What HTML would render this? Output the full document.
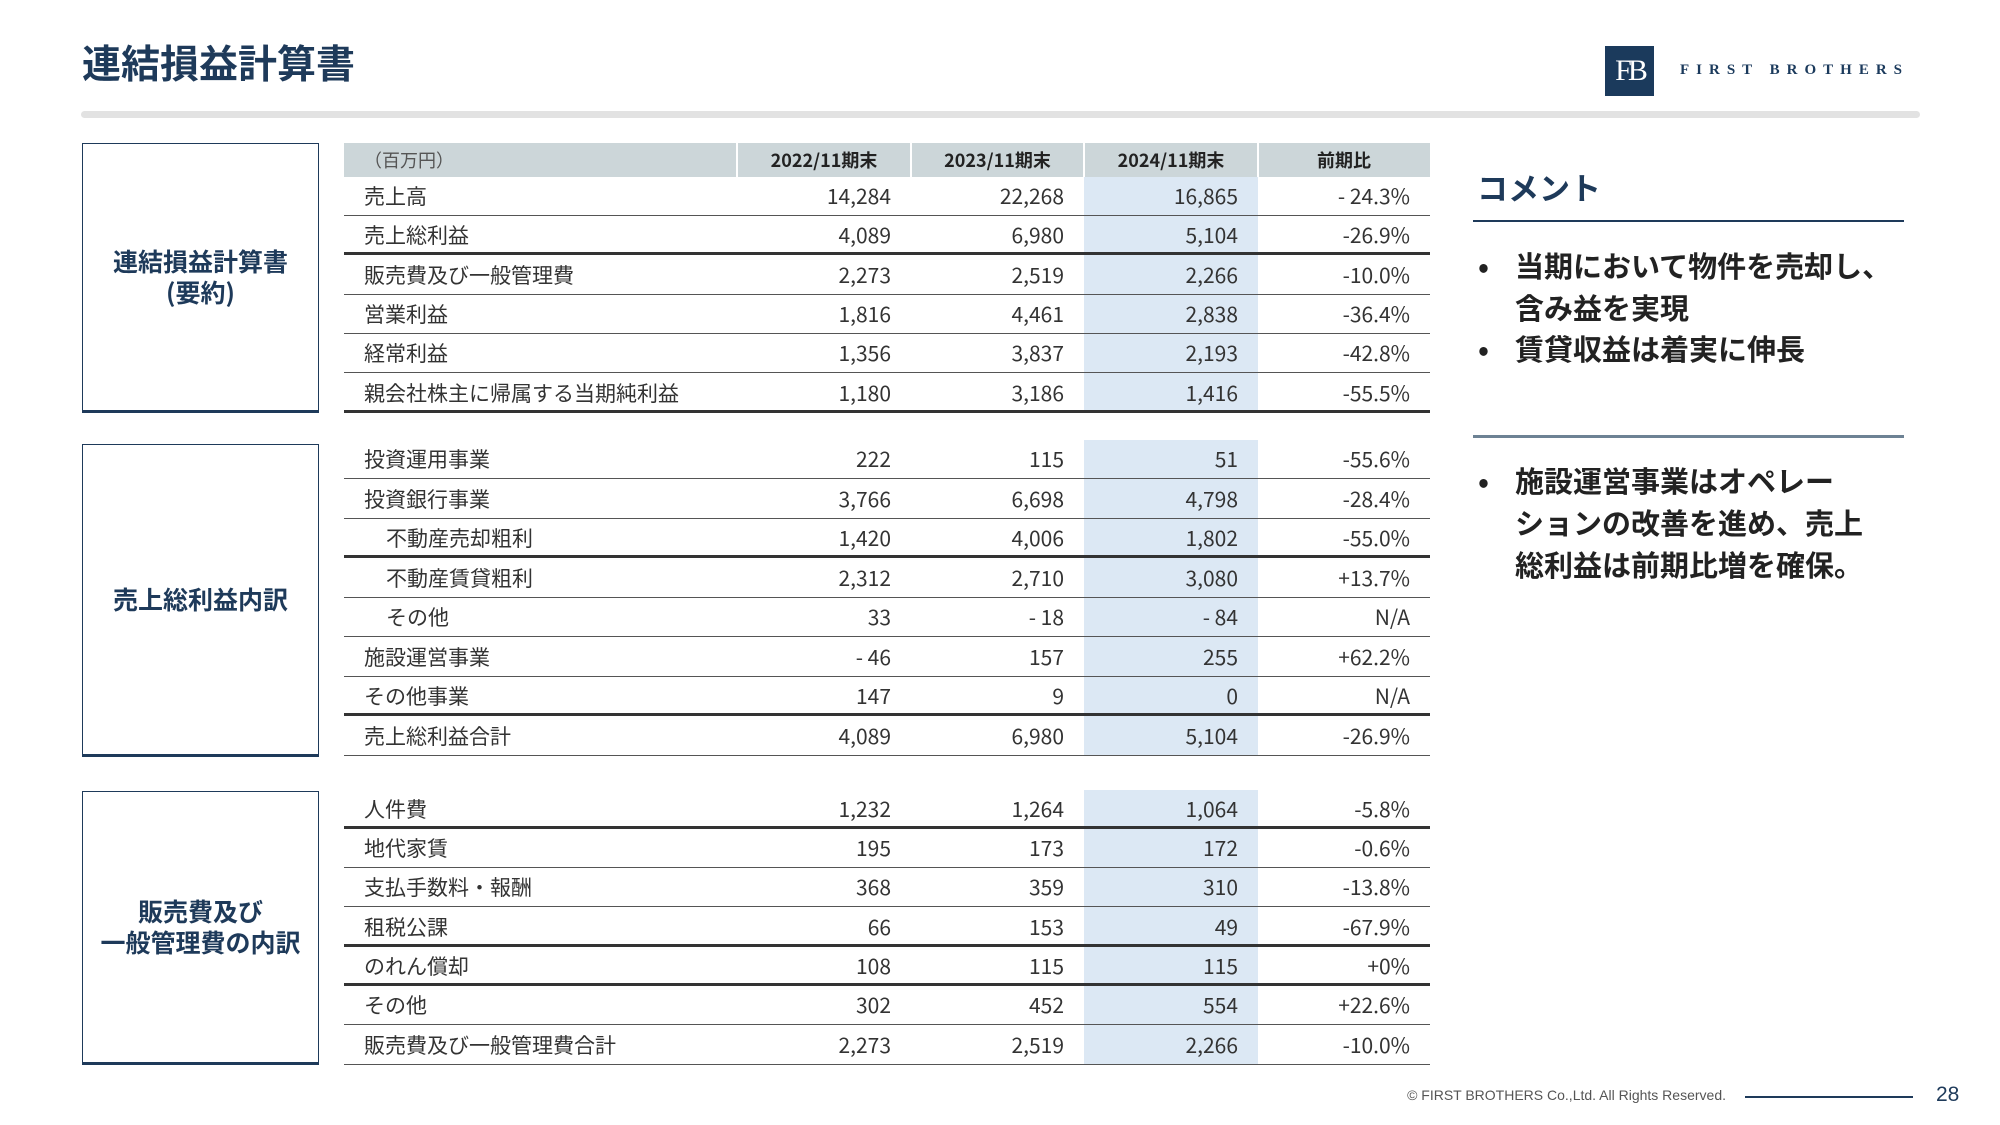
<!DOCTYPE html>
<html><head><meta charset="utf-8"><style>
*{margin:0;padding:0;box-sizing:border-box}
body{width:2000px;height:1125px;background:#fff;position:relative;overflow:hidden;font-family:"Liberation Sans","Noto Sans CJK JP",sans-serif;color:#333}
.a{position:absolute}
.title{left:82px;top:34px;font-size:39px;font-weight:bold;color:#1e3a5a;font-family:"Noto Sans CJK JP",sans-serif;line-height:56px}
.bar{left:81px;top:111px;width:1839px;height:7px;background:#e2e2e2;border-radius:4px}
.box{position:absolute;left:82px;width:237px;border:1.5px solid #1e3a5a;border-bottom:3px solid #1e3a5a;display:flex;align-items:center;justify-content:center;text-align:center;font-size:25px;font-weight:bold;color:#1e3a5a;line-height:31px;font-family:"Noto Sans CJK JP",sans-serif}
.hl{position:absolute;left:1084px;width:174px;background:#dce8f4}
.row{position:absolute;left:344px;width:1086px;height:39.3px;border-bottom:1.5px solid #555;font-size:21px;color:#333;font-family:"Noto Sans CJK JP",sans-serif}
.row.t{border-bottom:3px solid #333}
.row span{position:absolute;top:0;line-height:38px}
.l{left:20px}.i{left:42px}
.c1{right:539px}.c2{right:366px}.c3{right:192px}.c4{right:20px}
.hdr{position:absolute;left:344px;top:143px;width:1086px;height:34px;background:#ccd6d9;font-size:18px;font-weight:bold;color:#222;font-family:"Noto Sans CJK JP",sans-serif}
.hdr div{position:absolute;top:0;height:34px;line-height:34px;text-align:center}
.hdr .sep{width:2px;background:#fff;top:0}
.cm{color:#222;font-size:29px;font-weight:bold;line-height:42px;font-family:"Noto Sans CJK JP",sans-serif}
</style></head><body>
<div class="a title">連結損益計算書</div>
<div class="a" style="left:1605px;top:46px;width:49px;height:50px;background:#1b3a5c;color:#fff;font-family:'Liberation Serif',serif;font-size:30px;line-height:50px;text-align:center;letter-spacing:-4px">FB</div>
<div class="a" style="left:1680px;top:62px;font-family:'Liberation Serif',serif;font-size:15px;font-weight:bold;letter-spacing:7px;color:#1b3a5c">FIRST BROTHERS</div>
<div class="a bar"></div>

<div class="box" style="top:143px;height:270px">連結損益計算書<br>(要約)</div>
<div class="box" style="top:444px;height:313px">売上総利益内訳</div>
<div class="box" style="top:791px;height:274px">販売費及び<br>一般管理費の内訳</div>

<div class="hdr">
<div style="left:20px;font-weight:normal;color:#555">（百万円）</div>
<div style="left:393px;width:174px">2022/11期末</div>
<div style="left:567px;width:173px">2023/11期末</div>
<div style="left:740px;width:174px">2024/11期末</div>
<div style="left:914px;width:172px">前期比</div>
<div class="sep" style="left:392px"></div><div class="sep" style="left:566px"></div><div class="sep" style="left:739px"></div><div class="sep" style="left:913px"></div>
</div>

<div class="hl" style="top:177px;height:236px"></div>
<div class="hl" style="top:440px;height:316px"></div>
<div class="hl" style="top:790px;height:275px"></div>

<div class="row" style="top:177px"><span class="l">売上高</span><span class="c1">14,284</span><span class="c2">22,268</span><span class="c3">16,865</span><span class="c4">- 24.3%</span></div>
<div class="row t" style="top:216px"><span class="l">売上総利益</span><span class="c1">4,089</span><span class="c2">6,980</span><span class="c3">5,104</span><span class="c4">-26.9%</span></div>
<div class="row" style="top:256px"><span class="l">販売費及び一般管理費</span><span class="c1">2,273</span><span class="c2">2,519</span><span class="c3">2,266</span><span class="c4">-10.0%</span></div>
<div class="row" style="top:295px"><span class="l">営業利益</span><span class="c1">1,816</span><span class="c2">4,461</span><span class="c3">2,838</span><span class="c4">-36.4%</span></div>
<div class="row" style="top:334px"><span class="l">経常利益</span><span class="c1">1,356</span><span class="c2">3,837</span><span class="c3">2,193</span><span class="c4">-42.8%</span></div>
<div class="row t" style="top:374px"><span class="l">親会社株主に帰属する当期純利益</span><span class="c1">1,180</span><span class="c2">3,186</span><span class="c3">1,416</span><span class="c4">-55.5%</span></div>

<div class="row" style="top:440px"><span class="l">投資運用事業</span><span class="c1">222</span><span class="c2">115</span><span class="c3">51</span><span class="c4">-55.6%</span></div>
<div class="row" style="top:480px"><span class="l">投資銀行事業</span><span class="c1">3,766</span><span class="c2">6,698</span><span class="c3">4,798</span><span class="c4">-28.4%</span></div>
<div class="row t" style="top:519px"><span class="i">不動産売却粗利</span><span class="c1">1,420</span><span class="c2">4,006</span><span class="c3">1,802</span><span class="c4">-55.0%</span></div>
<div class="row" style="top:559px"><span class="i">不動産賃貸粗利</span><span class="c1">2,312</span><span class="c2">2,710</span><span class="c3">3,080</span><span class="c4">+13.7%</span></div>
<div class="row" style="top:598px"><span class="i">その他</span><span class="c1">33</span><span class="c2">- 18</span><span class="c3">- 84</span><span class="c4">N/A</span></div>
<div class="row" style="top:638px"><span class="l">施設運営事業</span><span class="c1">- 46</span><span class="c2">157</span><span class="c3">255</span><span class="c4">+62.2%</span></div>
<div class="row t" style="top:677px"><span class="l">その他事業</span><span class="c1">147</span><span class="c2">9</span><span class="c3">0</span><span class="c4">N/A</span></div>
<div class="row" style="top:717px"><span class="l">売上総利益合計</span><span class="c1">4,089</span><span class="c2">6,980</span><span class="c3">5,104</span><span class="c4">-26.9%</span></div>

<div class="row t" style="top:790px"><span class="l">人件費</span><span class="c1">1,232</span><span class="c2">1,264</span><span class="c3">1,064</span><span class="c4">-5.8%</span></div>
<div class="row" style="top:829px"><span class="l">地代家賃</span><span class="c1">195</span><span class="c2">173</span><span class="c3">172</span><span class="c4">-0.6%</span></div>
<div class="row" style="top:868px"><span class="l">支払手数料・報酬</span><span class="c1">368</span><span class="c2">359</span><span class="c3">310</span><span class="c4">-13.8%</span></div>
<div class="row t" style="top:908px"><span class="l">租税公課</span><span class="c1">66</span><span class="c2">153</span><span class="c3">49</span><span class="c4">-67.9%</span></div>
<div class="row t" style="top:947px"><span class="l">のれん償却</span><span class="c1">108</span><span class="c2">115</span><span class="c3">115</span><span class="c4">+0%</span></div>
<div class="row" style="top:986px"><span class="l">その他</span><span class="c1">302</span><span class="c2">452</span><span class="c3">554</span><span class="c4">+22.6%</span></div>
<div class="row" style="top:1026px"><span class="l">販売費及び一般管理費合計</span><span class="c1">2,273</span><span class="c2">2,519</span><span class="c3">2,266</span><span class="c4">-10.0%</span></div>

<div class="a" style="left:1477px;top:164px;font-size:31px;font-weight:bold;color:#1e3a5a;font-family:'Noto Sans CJK JP',sans-serif">コメント</div>
<div class="a" style="left:1473px;top:220px;width:431px;height:2px;background:#1e3a5a"></div>
<div class="a cm" style="left:1478px;top:244px">•</div>
<div class="a cm" style="left:1515px;top:244px">当期において物件を売却し、<br>含み益を実現</div>
<div class="a cm" style="left:1478px;top:327px">•</div>
<div class="a cm" style="left:1515px;top:327px">賃貸収益は着実に伸長</div>
<div class="a" style="left:1473px;top:435px;width:431px;height:3px;background:#6d8294"></div>
<div class="a cm" style="left:1478px;top:459px">•</div>
<div class="a cm" style="left:1515px;top:459px">施設運営事業はオペレー<br>ションの改善を進め、売上<br>総利益は前期比増を確保。</div>

<div class="a" style="right:274px;top:1087px;font-size:14px;color:#555">© FIRST BROTHERS Co.,Ltd. All Rights Reserved.</div>
<div class="a" style="left:1745px;top:1096px;width:168px;height:1.5px;background:#1e3a5a"></div>
<div class="a" style="left:1936px;top:1083px;font-size:21px;color:#1e3a5a">28</div>
</body></html>
